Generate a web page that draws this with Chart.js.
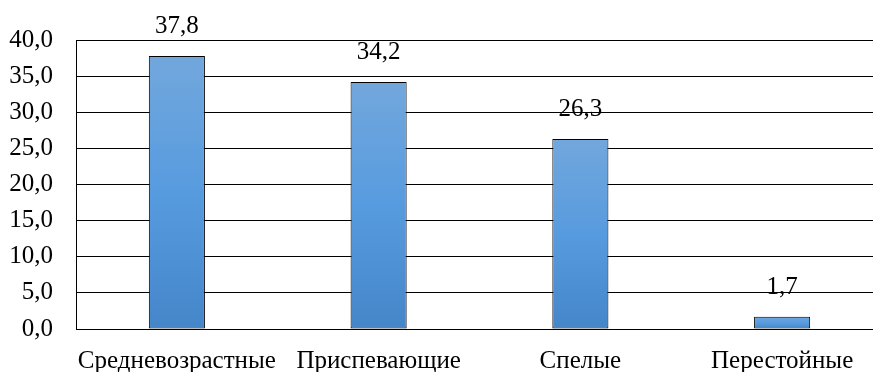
<!DOCTYPE html>
<html>
<head>
<meta charset="utf-8">
<script src="https://cdn.jsdelivr.net/npm/chart.js@4/dist/chart.umd.min.js"></script>
<style>
  html, body { margin: 0; padding: 0; background: #fff; overflow: hidden; }
  #wrap { width: 884px; height: 372px; position: relative; }
</style>
</head>
<body>
<div id="wrap"><canvas id="c"></canvas></div>
<script>
// Age groups of stands and their share, %
const categories = ['Средневозрастные', 'Приспевающие', 'Спелые', 'Перестойные'];
const shares = [37.8, 34.2, 26.3, 1.7];
const yTicks = [0, 5, 10, 15, 20, 25, 30, 35, 40];

const FONT = '"Liberation Serif", serif';
const FONT_SIZE = 25;
const fmt = v => v.toFixed(1).replace('.', ',');

// Vertical gradient per bar, from its top down to the baseline
function barGradient(ctx) {
  const chart = ctx.chart;
  const y = chart.scales && chart.scales.y;
  if (!chart.chartArea || !y || ctx.type !== 'data') return '#579bdf';
  const top = y.getPixelForValue(ctx.raw);
  const base = y.getPixelForValue(0);
  const g = chart.ctx.createLinearGradient(0, top, 0, base);
  g.addColorStop(0, '#72a7dc');
  g.addColorStop(0.5, '#579bdf');
  g.addColorStop(1, '#4586c9');
  return g;
}

// Value labels above the bars
const valueLabels = {
  id: 'valueLabels',
  afterDatasetsDraw(chart) {
    const c = chart.ctx;
    const meta = chart.getDatasetMeta(0);
    c.save();
    c.font = FONT_SIZE + 'px ' + FONT;
    c.fillStyle = '#000';
    c.textAlign = 'center';
    c.textBaseline = 'alphabetic';
    meta.data.forEach((bar, i) => {
      c.fillText(fmt(shares[i]), bar.x, bar.y - 23);
    });
    c.restore();
  }
};

new Chart(document.getElementById('c'), {
  type: 'bar',
  data: {
    labels: categories,
    datasets: [{
      data: shares,
      backgroundColor: barGradient,
      borderColor: '#000',
      borderWidth: 1,
      borderSkipped: false,
      barPercentage: 0.278,
      categoryPercentage: 1
    }]
  },
  options: {
    responsive: true,
    maintainAspectRatio: false,
    animation: false,
    devicePixelRatio: 1,
    layout: { padding: { top: 40, right: 1, bottom: 0, left: 0 } },
    plugins: { legend: { display: false }, tooltip: { enabled: false } },
    scales: {
      x: {
        grid: { display: false, drawTicks: false },
        border: { display: true, color: '#000', width: 1 },
        ticks: { color: '#000', font: { family: FONT, size: FONT_SIZE }, padding: 17, maxRotation: 0, autoSkip: false },
        afterFit(s) { s.height = 43; }
      },
      y: {
        min: 0,
        max: 40,
        afterBuildTicks(s) { s.ticks = yTicks.map(v => ({ value: v })); },
        grid: { color: '#000', lineWidth: 1, drawTicks: false },
        border: { display: true, color: '#000', width: 1 },
        ticks: { color: '#000', font: { family: FONT, size: FONT_SIZE }, padding: 23, callback: v => fmt(v) },
        afterFit(s) { s.width = 76; }
      }
    }
  },
  plugins: [valueLabels]
});
</script>
</body>
</html>
